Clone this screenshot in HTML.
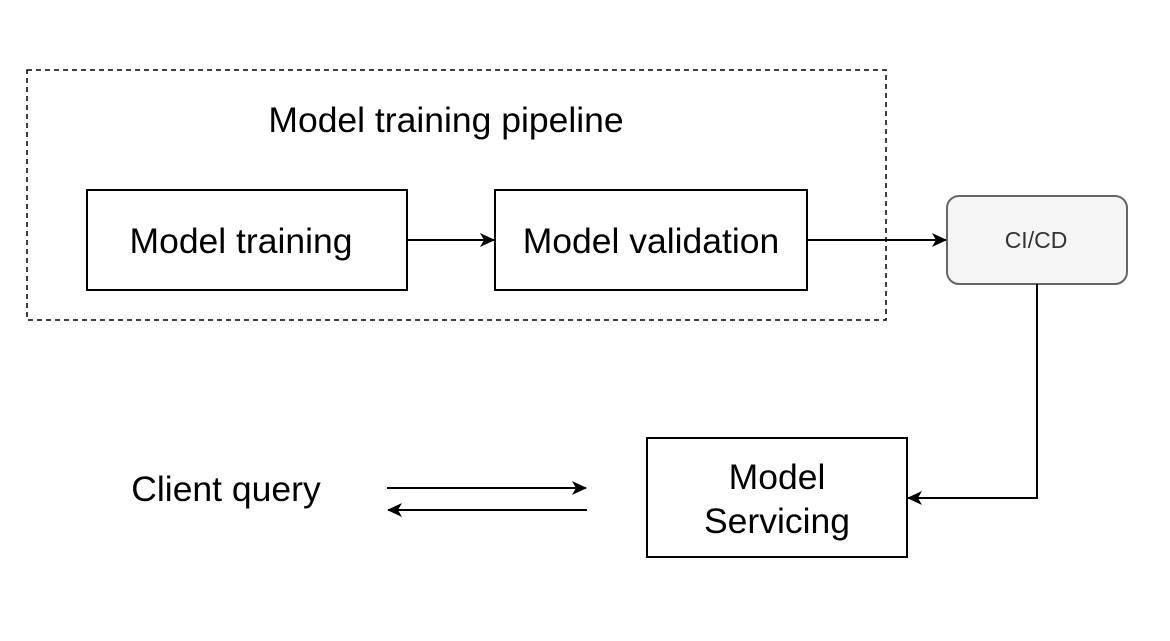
<!DOCTYPE html>
<html><head><meta charset="utf-8"><style>
body{margin:0;background:#fff}
text{font-family:"Liberation Sans",Arial,sans-serif;fill:#000}
</style></head><body>
<svg width="1170" height="636" viewBox="0 0 1170 636" xmlns="http://www.w3.org/2000/svg">
<defs><marker id="a" markerWidth="16" markerHeight="16" refX="14" refY="8" orient="auto" markerUnits="userSpaceOnUse"><path d="M0,1 L15,8 L0,15 L4,8 Z" fill="#000"/></marker></defs>
<rect x="27" y="70" width="859" height="250" fill="none" stroke="#000" stroke-width="1.5" stroke-dasharray="5,4"/>
<text x="446" y="132" font-size="35.5" text-anchor="middle">Model training pipeline</text>
<rect x="87" y="190" width="320" height="100" fill="#fff" stroke="#000" stroke-width="2"/>
<text x="241" y="253" font-size="35.5" text-anchor="middle">Model training</text>
<rect x="495" y="190" width="312" height="100" fill="#fff" stroke="#000" stroke-width="2"/>
<text x="651" y="253" font-size="35.5" text-anchor="middle">Model validation</text>
<rect x="947" y="196" width="180" height="88" rx="12" fill="#f5f5f5" stroke="#666" stroke-width="2"/>
<text x="1036" y="248" font-size="23" text-anchor="middle" style="fill:#333">CI/CD</text>
<rect x="647" y="438" width="260" height="119" fill="#fff" stroke="#000" stroke-width="2"/>
<text x="777" y="489" font-size="35.5" text-anchor="middle">Model</text>
<text x="777" y="533" font-size="35.5" text-anchor="middle">Servicing</text>
<text x="226" y="501" font-size="35.5" text-anchor="middle">Client query</text>
<g stroke="#000" stroke-width="2" fill="none">
<line x1="407" y1="240" x2="494" y2="240" marker-end="url(#a)"/>
<line x1="807" y1="240" x2="946" y2="240" marker-end="url(#a)"/>
<polyline points="1037,284 1037,498 908,498" marker-end="url(#a)"/>
<line x1="387" y1="488" x2="586" y2="488" marker-end="url(#a)"/>
<line x1="587" y1="510" x2="388" y2="510" marker-end="url(#a)"/>
</g>
</svg>
</body></html>
